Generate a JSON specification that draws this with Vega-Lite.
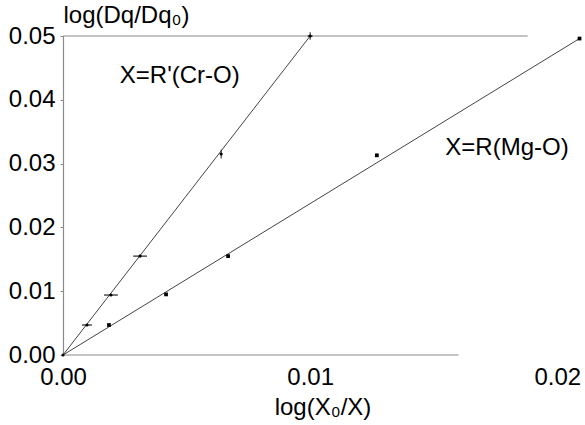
{
  "$schema": "https://vega.github.io/schema/vega-lite/v6.json",
  "autosize": "none",
  "width": 519,
  "height": 319,
  "padding": {"left": 63, "top": 36, "right": 3, "bottom": 70},
  "background": "white",
  "config": {
    "view": {"stroke": null},
    "font": "Liberation Sans",
    "axis": {"grid": false, "labelFont": "Liberation Sans", "titleFont": "Liberation Sans", "labelColor": "black", "titleColor": "black", "titleFontWeight": "normal", "labelFontSize": 24, "titleFontSize": 24, "labelFlush": false, "labelOverlap": false, "labelBound": false}
  },
  "datasets": {
    "frame": [
      {"x": 0, "x2": 0.0188, "y": 0.05},
      {"x": 0, "x2": 0.016, "y": 0}
    ],
    "fits": [
      {"series": "Cr-O", "x": 0, "y": 0},
      {"series": "Cr-O", "x": 0.0100, "y": 0.0500},
      {"series": "Mg-O", "x": 0, "y": 0},
      {"series": "Mg-O", "x": 0.0209, "y": 0.0496}
    ],
    "points": [
      {"series": "Cr-O", "x": 0, "y": 0},
      {"series": "Cr-O", "x": 0.00097, "y": 0.0047},
      {"series": "Cr-O", "x": 0.00194, "y": 0.0094},
      {"series": "Cr-O", "x": 0.00312, "y": 0.0155},
      {"series": "Cr-O", "x": 0.0064, "y": 0.0315},
      {"series": "Cr-O", "x": 0.0100, "y": 0.0500},
      {"series": "Mg-O", "x": 0.00186, "y": 0.0047},
      {"series": "Mg-O", "x": 0.00417, "y": 0.0095},
      {"series": "Mg-O", "x": 0.00668, "y": 0.0155},
      {"series": "Mg-O", "x": 0.0127, "y": 0.0313},
      {"series": "Mg-O", "x": 0.0209, "y": 0.0496}
    ],
    "xerr": [
      {"y": 0.0047, "xlo": 0.00077, "xhi": 0.00117},
      {"y": 0.0094, "xlo": 0.00166, "xhi": 0.00222},
      {"y": 0.0155, "xlo": 0.00284, "xhi": 0.0034},
      {"y": 0.0500, "xlo": 0.0099, "xhi": 0.0101}
    ],
    "yerr": [
      {"x": 0.0064, "ylo": 0.0308, "yhi": 0.0322},
      {"x": 0.0100, "ylo": 0.0494, "yhi": 0.0506}
    ],
    "labels": [
      {"x": 0.0023, "y": 0.0437, "text": "X=R'(Cr-O)"},
      {"x": 0.01547, "y": 0.0324, "text": "X=R(Mg-O)"}
    ]
  },
  "layer": [
    {
      "data": {"name": "frame"},
      "mark": {"type": "rule", "color": "#8a8a8a", "strokeWidth": 1.2},
      "encoding": {
        "x": {"field": "x", "type": "quantitative", "scale": {"domain": [0, 0.021], "nice": false},
          "axis": {"values": [0, 0.01, 0.02], "format": ".2f", "domain": false, "ticks": false, "labelPadding": 10, "title": "log(X₀/X)", "titlePadding": 6}},
        "x2": {"field": "x2"},
        "y": {"field": "y", "type": "quantitative", "scale": {"domain": [0, 0.05], "nice": false},
          "axis": {"values": [0, 0.01, 0.02, 0.03, 0.04, 0.05], "format": ".2f", "domainColor": "#8a8a8a", "domainWidth": 1.2, "tickColor": "#8a8a8a", "tickSize": 3, "labelPadding": 5,
            "title": "log(Dq/Dq₀)", "titleAngle": 0, "titleAlign": "left", "titleBaseline": "alphabetic", "titleX": 0, "titleY": -14}}
      }
    },
    {
      "data": {"name": "fits"},
      "mark": {"type": "line", "color": "#444444", "strokeWidth": 1},
      "encoding": {
        "x": {"field": "x", "type": "quantitative"},
        "y": {"field": "y", "type": "quantitative"},
        "detail": {"field": "series"}
      }
    },
    {
      "data": {"name": "xerr"},
      "mark": {"type": "rule", "color": "#222222", "strokeWidth": 1.2},
      "encoding": {
        "x": {"field": "xlo", "type": "quantitative"},
        "x2": {"field": "xhi"},
        "y": {"field": "y", "type": "quantitative"}
      }
    },
    {
      "data": {"name": "yerr"},
      "mark": {"type": "rule", "color": "#222222", "strokeWidth": 1},
      "encoding": {
        "x": {"field": "x", "type": "quantitative"},
        "y": {"field": "ylo", "type": "quantitative"},
        "y2": {"field": "yhi"}
      }
    },
    {
      "data": {"name": "points"},
      "mark": {"type": "point", "filled": true, "color": "black", "opacity": 1},
      "encoding": {
        "x": {"field": "x", "type": "quantitative"},
        "y": {"field": "y", "type": "quantitative"},
        "shape": {"field": "series", "type": "nominal", "scale": {"domain": ["Cr-O", "Mg-O"], "range": ["circle", "square"]}, "legend": null},
        "size": {"field": "series", "type": "nominal", "scale": {"domain": ["Cr-O", "Mg-O"], "range": [10, 14]}, "legend": null}
      }
    },
    {
      "data": {"name": "labels"},
      "mark": {"type": "text", "align": "left", "baseline": "middle", "fontSize": 24, "font": "Liberation Sans", "color": "black"},
      "encoding": {
        "x": {"field": "x", "type": "quantitative"},
        "y": {"field": "y", "type": "quantitative"},
        "text": {"field": "text"}
      }
    }
  ]
}
